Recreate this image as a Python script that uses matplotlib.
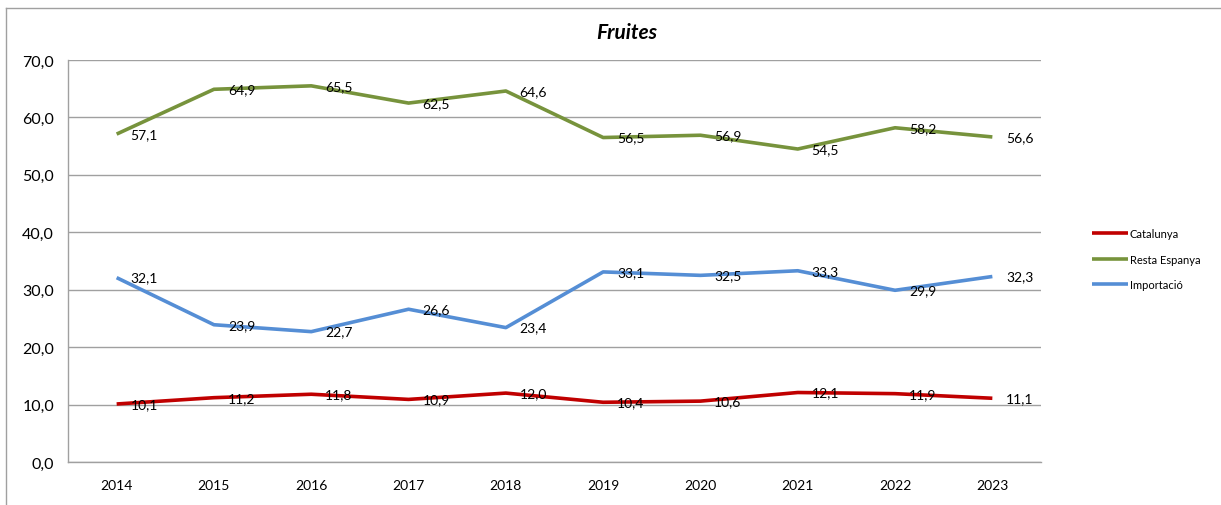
import matplotlib
matplotlib.use('Agg')
import matplotlib.pyplot as plt
from matplotlib.lines import Line2D

plt.rcParams['font.family'] = ['Lato', 'DejaVu Sans']

YEARS = ['2014', '2015', '2016', '2017', '2018', '2019', '2020', '2021', '2022', '2023']
CATALUNYA = [10.1, 11.2, 11.8, 10.9, 12.0, 10.4, 10.6, 12.1, 11.9, 11.1]
RESTA = [57.1, 64.9, 65.5, 62.5, 64.6, 56.5, 56.9, 54.5, 58.2, 56.6]
IMPORT = [32.1, 23.9, 22.7, 26.6, 23.4, 33.1, 32.5, 33.3, 29.9, 32.3]

SERIES = [('Catalunya', CATALUNYA, '#C00000'),
          ('Resta Espanya', RESTA, '#77933C'),
          ('Importació', IMPORT, '#558ED5')]

W, H = 1221, 506
fig = plt.figure(figsize=(W / 100, H / 100), dpi=100)
ax = fig.add_axes([68 / W, 1 - 463 / H, (1041 - 68) / W, (463 - 61) / H])

x = list(range(len(YEARS)))
for name, vals, col in SERIES:
    ax.plot(x, vals, color=col, lw=2.6, label=name, solid_capstyle='butt')
    for xi, v in zip(x, vals):
        ax.annotate(f'{v:.1f}'.replace('.', ','), (xi, v), xytext=(10, 0),
                    textcoords='offset points', va='center', ha='left',
                    fontsize=10, color='black')

ax.set_xlim(-0.5, len(YEARS) - 0.5)
ax.set_ylim(0, 70)
ax.set_yticks(range(0, 71, 10))
ax.set_yticklabels([f'{v},0' for v in range(0, 71, 10)])
ax.set_xticks(x)
ax.set_xticklabels(YEARS)
ax.tick_params(length=0, labelsize=10)
ax.tick_params(axis='y', labelsize=11.5, pad=10)
ax.tick_params(axis='x', pad=12)
ax.grid(axis='y', color='#A0A0A0', lw=1)
ax.set_axisbelow(True)
for s in ['top', 'right']:
    ax.spines[s].set_visible(False)
for s in ['left', 'bottom']:
    ax.spines[s].set_color('#A0A0A0')
    ax.spines[s].set_linewidth(1)

fig.text(627 / W, 1 - 33 / H, 'Fruites', ha='center', va='center',
         fontsize=15, fontweight='bold', fontstyle='italic')

fig.legend(loc='center left', bbox_to_anchor=(1082 / W, 1 - 260 / H),
           frameon=False, fontsize=8, handlelength=3.2, handletextpad=0.2,
           labelspacing=1.3)

# outer chart border
fig.add_artist(Line2D([6 / W, 6 / W], [0, 1 - 9 / H], color='#A0A0A0', lw=1))
fig.add_artist(Line2D([6 / W, 1], [1 - 9 / H, 1 - 9 / H], color='#A0A0A0', lw=1))

fig.savefig('out.png', dpi=100)
